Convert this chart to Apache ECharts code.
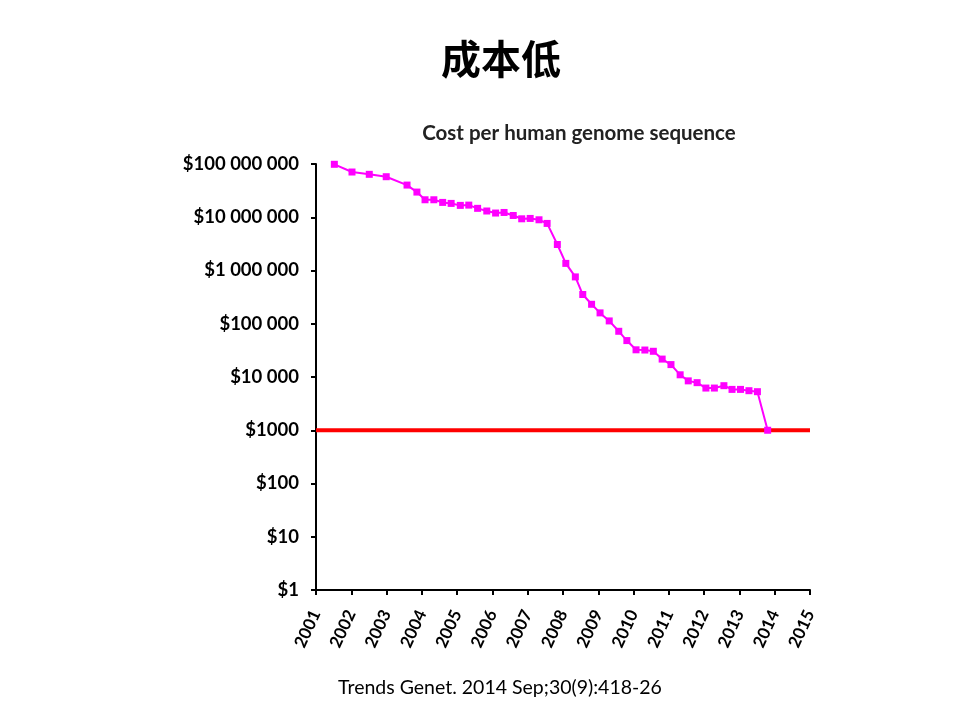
<!DOCTYPE html>
<html>
<head>
<meta charset="utf-8">
<title>成本低</title>
<script src="https://cdn.jsdelivr.net/npm/echarts@6/dist/echarts.min.js"></script>
</head>
<body style="margin:0;background:#fff">
<div id="chart" style="width:960px;height:720px"></div>
<script type="text/javascript">
// 读图得到的数据：年份（小数）与每个基因组的测序成本（美元）
var years = [2001.52, 2002.02, 2002.51, 2002.99, 2003.58, 2003.86, 2004.09, 2004.34, 2004.59, 2004.83,
             2005.09, 2005.33, 2005.58, 2005.84, 2006.09, 2006.33, 2006.59, 2006.83, 2007.07, 2007.32,
             2007.55, 2007.84, 2008.08, 2008.35, 2008.56, 2008.81, 2009.05, 2009.31, 2009.58, 2009.81,
             2010.07, 2010.32, 2010.56, 2010.81, 2011.06, 2011.32, 2011.55, 2011.80, 2012.05, 2012.29,
             2012.56, 2012.79, 2013.03, 2013.27, 2013.51, 2013.80];
var costs = [98700000, 70700000, 64000000, 57700000, 40200000, 29700000, 21300000, 21300000, 19000000, 18200000,
             16700000, 16900000, 14700000, 13100000, 12000000, 12300000, 10800000, 9350000, 9500000, 8960000,
             7660000, 3080000, 1360000, 758000, 354000, 232000, 160000, 113000, 72200, 48300,
             32400, 32100, 30400, 21700, 17100, 11000, 8460, 7830, 6200, 6200,
             6870, 5850, 5850, 5530, 5300, 1000];
// $1000 目标线
var targetCost = 1000;
var targetSpan = [2001, 2015];
// 纵轴刻度文字（按 10 的幂次）
var yTickLabels = ['$1', '$10', '$100', '$1000', '$10 000', '$100 000', '$1 000 000', '$10 000 000', '$100 000 000'];

var genomeData = years.map(function (y, i) { return [y, costs[i]]; });
var targetData = targetSpan.map(function (y) { return [y, targetCost]; });

var myChart = echarts.init(document.getElementById('chart'));
myChart.setOption({
  animation: false,
  backgroundColor: '#fff',
  title: [
    {
      text: '成本低', left: 501, top: 39, textAlign: 'center', padding: 0,
      textStyle: { fontFamily: 'Noto Sans CJK SC', fontWeight: 'bold', fontSize: 40, color: '#000' }
    },
    {
      text: 'Cost per human genome sequence', left: 579, top: 123, textAlign: 'center', padding: 0,
      textStyle: { fontFamily: 'Lato', fontWeight: 'bold', fontSize: 20.5, color: '#222' }
    },
    {
      text: 'Trends Genet. 2014 Sep;30(9):418-26', left: 500, top: 678, textAlign: 'center', padding: 0,
      textStyle: { fontFamily: 'Lato', fontWeight: 'normal', fontSize: 19.5, color: '#000' }
    }
  ],
  grid: { left: 316, right: 150, top: 164, bottom: 130 },
  xAxis: {
    type: 'value', min: 2001, max: 2015, interval: 1,
    axisLine: { lineStyle: { color: '#000', width: 2 } },
    axisTick: { length: 5, lineStyle: { color: '#000', width: 2 } },
    splitLine: { show: false },
    axisLabel: {
      rotate: 65, margin: 21, color: '#000',
      fontFamily: 'Lato', fontWeight: 'bold', fontSize: 17,
      formatter: function (v) { return String(v); }
    }
  },
  yAxis: {
    type: 'log', logBase: 10, min: 1, max: 100000000, splitNumber: 8,
    axisLine: { show: true, lineStyle: { color: '#000', width: 2 } },
    axisTick: { show: true, length: 5, lineStyle: { color: '#000', width: 2 } },
    splitLine: { show: false },
    axisLabel: {
      margin: 17, color: '#000',
      fontFamily: 'Lato', fontWeight: 'bold', fontSize: 18.5,
      formatter: function (v) { return yTickLabels[Math.round(Math.log10(v))]; }
    }
  },
  series: [
    {
      name: 'target', type: 'line', data: targetData, z: 3,
      symbol: 'none', lineStyle: { color: '#ff0000', width: 4 }
    },
    {
      name: 'cost', type: 'line', data: genomeData, z: 4,
      symbol: 'rect', symbolSize: 7,
      itemStyle: { color: '#ff00ff' },
      lineStyle: { color: '#ff00ff', width: 2 }
    }
  ]
});
</script>
</body>
</html>
